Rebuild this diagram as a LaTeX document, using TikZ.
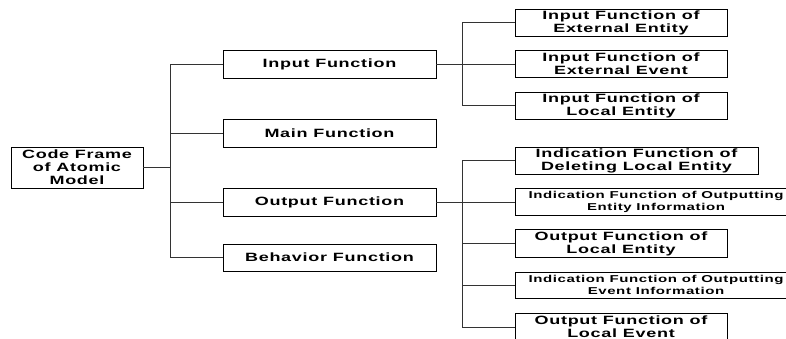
\documentclass[tikz,border=0pt]{standalone}
\usepackage{fontspec}
\newfontfamily\wf{Liberation Sans}[FakeStretch=1.5,LetterSpace=6]
\begin{document}
\begin{tikzpicture}[x=1pt,y=-1pt,
  box/.style={draw=black, line width=0.8pt, inner sep=0pt, align=center,
    font=\wf\bfseries\fontsize{12}{13}\selectfont},
  smallbox/.style={box, font=\wf\bfseries\fontsize{10}{12}\selectfont},
  mid/.style={box, minimum width=213, minimum height=28},
  rbox/.style={box, minimum width=212, minimum height=27},
  link/.style={draw=black!80, line width=0.8pt}]
\useasboundingbox (0,0) rectangle (786,339);
\clip (0,0) rectangle (786,339);
\fill[white] (0,0) rectangle (786,339);
% root
\node[box, minimum width=132, minimum height=41] (root) at (77,167.5) {Code Frame\\of Atomic\\Model};
% middle
\node[mid] (in) at (329.5,64) {Input Function};
\node[mid] (main) at (329.5,133) {Main Function};
\node[mid] (out) at (329.5,202) {Output Function};
\node[mid, minimum height=27] (beh) at (329.5,257.5) {Behavior Function};
% right, input
\node[rbox] (r1) at (621,22.5) {Input Function of\\External Entity};
\node[rbox] (r2) at (621,64) {Input Function of\\External Event};
\node[rbox] (r3) at (621,105.5) {Input Function of\\Local Entity};
% right, output
\node[box, minimum width=243, minimum height=27] (r4) at (636.5,160.5) {Indication Function of\\Deleting Local Entity};
\node[smallbox, minimum width=282, minimum height=27] (r5) at (656,202) {Indication Function of Outputting\\Entity Information};
\node[rbox, minimum height=28] (r6) at (621,243.5) {Output Function of\\Local Entity};
\node[smallbox, minimum width=282, minimum height=26] (r7) at (656,285) {Indication Function of Outputting\\Event Information};
\node[rbox, minimum height=28] (r8) at (621,327) {Output Function of\\Local Event};
% junctions
\coordinate (j0) at (170,167.5);
\coordinate (j1) at (462,64);
\coordinate (j2) at (462,202);
% connectors
\draw[link] (root.east) -- (j0);
\draw[link] (in.west) -| (j0);
\draw[link] (main.west) -| (j0);
\draw[link] (out.west) -| (j0);
\draw[link] (beh.west) -| (j0);
\draw[link] (in.east) -- (r2.west);
\draw[link] (r1.west) -| (j1);
\draw[link] (r3.west) -| (j1);
\draw[link] (out.east) -- (r5.west);
\draw[link] (r4.west) -| (j2);
\draw[link] (r6.west) -| (j2);
\draw[link] (r7.west) -| (j2);
\draw[link] (r8.west) -| (j2);
\end{tikzpicture}
\end{document}
